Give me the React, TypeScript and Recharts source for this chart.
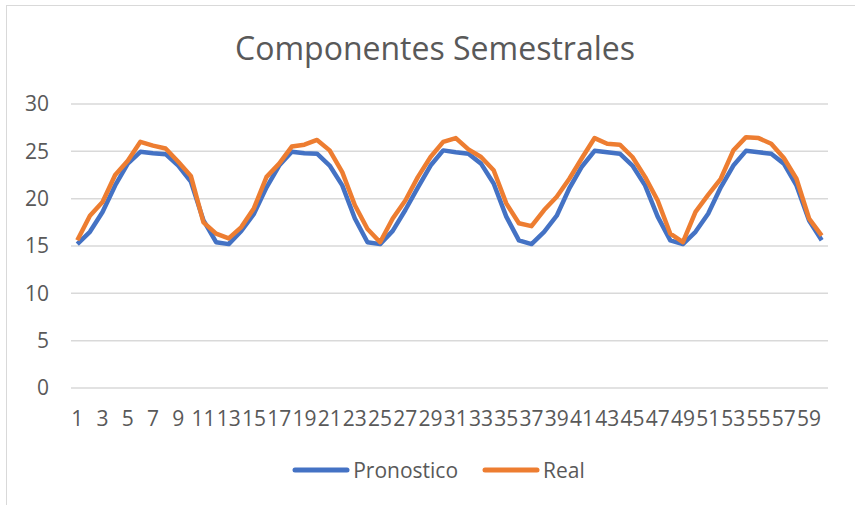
import { LineChart, Line, XAxis, YAxis, CartesianGrid, Legend } from 'recharts';

const periods = Array.from({ length: 60 }, (_, i) => String(i + 1));

const pronostico = [
  15.2, 16.5, 18.6, 21.4, 23.7, 24.95, 24.8, 24.7, 23.5, 21.8, 17.7, 15.4,
  15.2, 16.6, 18.4, 21.2, 23.5, 24.95, 24.8, 24.75, 23.5, 21.4, 17.9, 15.4,
  15.2, 16.6, 18.8, 21.2, 23.5, 25.1, 24.9, 24.75, 23.7, 21.6, 18.1, 15.6,
  15.2, 16.5, 18.2, 21.1, 23.4, 25.05, 24.9, 24.75, 23.5, 21.4, 18.1, 15.6,
  15.2, 16.5, 18.4, 21.2, 23.5, 25.05, 24.9, 24.75, 23.7, 21.4, 17.7, 15.6,
];

const real = [
  15.6, 18.2, 19.65, 22.5, 24.0, 26.0, 25.6, 25.3, 23.9, 22.4, 17.5, 16.3,
  15.8, 17.0, 19.0, 22.3, 23.7, 25.5, 25.7, 26.2, 25.1, 22.8, 19.3, 16.8,
  15.4, 17.9, 19.8, 22.3, 24.4, 26.0, 26.4, 25.2, 24.4, 23.0, 19.5, 17.4,
  17.1, 18.8, 20.2, 22.1, 24.3, 26.4, 25.8, 25.7, 24.4, 22.3, 19.8, 16.3,
  15.4, 18.6, 20.4, 22.1, 25.1, 26.5, 26.4, 25.8, 24.3, 22.1, 17.9, 16.1,
];

const yTicks = [0, 5, 10, 15, 20, 25, 30];

const data = periods.map((p, i) => ({ name: p, Pronostico: pronostico[i], Real: real[i] }));

const textColor = '#595959';
const font = '"Open Sans", sans-serif';

const LegendContent = ({ payload }: any) => (
  <div style={{ display: 'flex', justifyContent: 'center', alignItems: 'center', fontFamily: font, fontSize: 21, color: textColor }}>
    {(payload || []).map((item: any) => (
      <div key={item.value} style={{ display: 'flex', alignItems: 'center', margin: '0 12px' }}>
        <svg width={58} height={10}>
          <line x1={3} y1={5} x2={55} y2={5} stroke={item.color} strokeWidth={5} strokeLinecap="round" />
        </svg>
        <span style={{ marginLeft: 3 }}>{item.value}</span>
      </div>
    ))}
  </div>
);

export default function App() {
  return (
    <div style={{ position: 'fixed', left: 0, top: 0, width: 855, height: 505, overflow: 'hidden', background: '#fff' }}>
      <div style={{ position: 'absolute', left: 6, top: 5, width: 870, height: 520, border: '1px solid #d9d9d9' }} />
      <div style={{ position: 'absolute', left: 0, top: 26, width: 870, textAlign: 'center', fontFamily: font, fontSize: 32, color: textColor }}>
        Componentes Semestrales
      </div>
      <div style={{ position: 'absolute', left: 0, top: 0 }}>
        <LineChart width={855} height={505} data={data} margin={{ top: 104, right: 27, left: 0, bottom: 59 }}>
          <CartesianGrid vertical={false} stroke="#d9d9d9" strokeWidth={1.5} />
          <XAxis
            dataKey="name"
            scale="band"
            interval={1}
            axisLine={false}
            tickLine={false}
            tickSize={0}
            tickMargin={23}
            height={30}
            tick={{ fill: textColor, fontSize: 21, fontFamily: font }}
          />
          <YAxis
            domain={[0, 30]}
            ticks={yTicks}
            axisLine={false}
            tickLine={false}
            tickSize={0}
            tickMargin={22}
            width={71}
            tick={{ fill: textColor, fontSize: 21, fontFamily: font }}
          />
          <Legend verticalAlign="bottom" content={<LegendContent />} wrapperStyle={{ bottom: 21, left: 0, width: 877 }} />
          <Line type="linear" dataKey="Pronostico" stroke="#4472C4" strokeWidth={4.5} dot={false} strokeLinejoin="round" isAnimationActive={false} />
          <Line type="linear" dataKey="Real" stroke="#ED7D31" strokeWidth={4.5} dot={false} strokeLinejoin="round" isAnimationActive={false} />
        </LineChart>
      </div>
    </div>
  );
}
